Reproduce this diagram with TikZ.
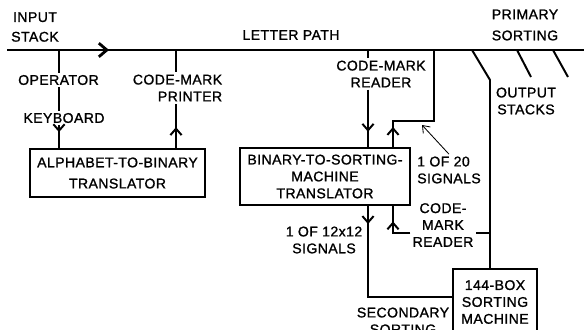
\documentclass[tikz,border=0pt]{standalone}
\usepackage{fontspec}
\newfontfamily\lett[LetterSpace=3,FakeBold=1.2]{Liberation Sans}
\usetikzlibrary{positioning,arrows.meta,decorations.markings}
\newcommand\lettsize{\lett\fontsize{10}{12}\selectfont}
\tikzset{
  lbl/.style={font=\lettsize, align=center, inner sep=1.5pt},
  tbox/.style={draw, line width=1.4pt, font=\lettsize, align=center, inner sep=0pt},
  wire/.style={line width=1.4pt},
  mainpath/.style={line width=2pt},
  tipat/.style={postaction={decorate}, decoration={markings,
    mark=at position #1 with {\arrow{Straight Barb[length=1.6mm,width=2.8mm]}}}},
  pathtip/.style={postaction={decorate}, decoration={markings,
    mark=at position #1 with {\arrow{Straight Barb[length=2mm,width=3.4mm]}}}},
  leader/.style={-{Straight Barb[length=1.6mm,width=2.4mm]}, line width=0.6pt},
}
\begin{document}
\begin{tikzpicture}[x=0.025cm, y=-0.025cm]
\useasboundingbox (0,0) rectangle (584,329);
\clip (0,0) rectangle (584,329);
% letter path
\coordinate (lpL) at (7,50);
\coordinate (lpR) at (590,50);
\draw[mainpath, pathtip=2.55cm] (lpL) -- (lpR);
\node[lbl] (instk) at (35,27) {INPUT\\[2pt]STACK};
\node[lbl] (lpath) at (291,35) {LETTER PATH};
\node[lbl] (prim) at (525,25) {PRIMARY\\[3pt]SORTING};
% operator keyboard
\coordinate (tOp) at (59,50);
\node[lbl] (opr) at (58.5,80) {OPERATOR};
\node[lbl] (kbd) at (64,118) {KEYBOARD};
\node[tbox, minimum width=4.375cm, minimum height=1.2cm] (abt) at (117.5,173)
  {ALPHABET-TO-BINARY\\[3pt]TRANSLATOR};
\draw[wire] (tOp) -- (tOp |- opr.north);
\draw[wire] (tOp |- opr.south) -- (tOp |- kbd.north);
\draw[wire, tipat=0.3] (tOp |- kbd.south) -- (tOp |- abt.north);
% printer
\coordinate (tPr) at (176,50);
\node[lbl, align=right] (cmp) at (177.5,88) {CODE-MARK\\PRINTER};
\draw[wire] (tPr) -- (tPr |- cmp.north);
\draw[wire, tipat=0.52cm] (tPr |- abt.north) -- (tPr |- cmp.south);
% sorting translator
\node[tbox, minimum width=4.25cm, minimum height=1.425cm] (bst) at (325,176.5)
  {BINARY-TO-SORTING-\\MACHINE\\TRANSLATOR};
\coordinate (tRd) at (368,50);
\node[lbl] (cmr) at (381,74) {CODE-MARK\\READER};
\draw[wire] (tRd) -- (tRd |- cmr.north);
\draw[wire, tipat=1.05cm] (tRd |- cmr.south) -- (tRd |- bst.north);
% 1 of 20 loop
\coordinate (tSg) at (434,50);
\coordinate (sgX) at (393,121);
\draw[wire, tipat=0.5cm] (bst.north -| sgX) -- (sgX) -- (sgX -| tSg) -- (tSg);
\node[lbl, align=left] (s20) at (449,170) {1 OF 20\\SIGNALS};
\coordinate (s20tip) at (422,125);
\draw[leader] (s20.north) -- (s20tip);
% primary sorting
\node[tbox, minimum width=2.1cm, minimum height=1.65cm] (smc) at (495,302)
  {144-BOX\\SORTING\\MACHINE};
\coordinate (tO1) at (472,50);
\coordinate (bend) at (490,80);
\draw[wire] (tO1) -- (bend) -- (bend |- smc.north);
\coordinate (tO2) at (517,50);
\coordinate (eO2) at (531,77);
\coordinate (tO3) at (553,50);
\coordinate (eO3) at (568,77);
\draw[wire] (tO2) -- (eO2);
\draw[wire] (tO3) -- (eO3);
\node[lbl] (outs) at (526,101) {OUTPUT\\STACKS};
% second reader
\node[lbl] (cmr2) at (443,225) {CODE-\\MARK\\READER};
\coordinate (rdy) at (393,233);
\draw[wire, tipat=0.72cm] (cmr2.west |- rdy) -- (rdy) -- (bst.south -| rdy);
\draw[wire] (bend |- rdy) -- (cmr2.east |- rdy);
% 1 of 12x12
\coordinate (sg12) at (368,297);
\draw[wire, tipat=0.45cm] (bst.south -| sg12) -- (sg12) -- (smc.west |- sg12);
\node[lbl] (s12) at (324,240) {1 OF 12x12\\SIGNALS};
\node[lbl] (sec) at (403,321) {SECONDARY\\SORTING};
\end{tikzpicture}
\end{document}
